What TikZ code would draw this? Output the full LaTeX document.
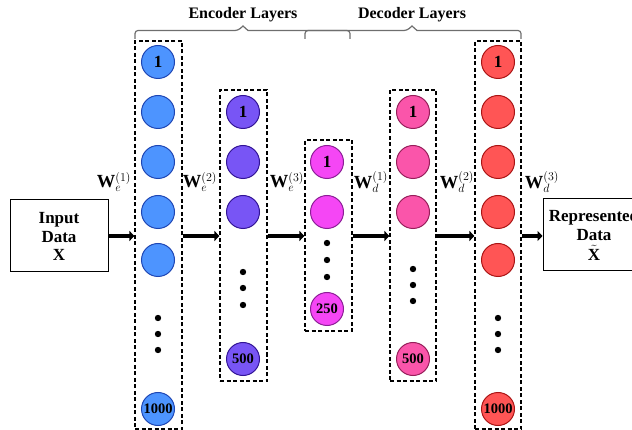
\documentclass[tikz,border=0pt]{standalone}
\usepackage{fontspec}
\setmainfont{Liberation Serif}
\usetikzlibrary{arrows.meta}
\definecolor{bluef}{RGB}{77,148,255}\definecolor{blued}{RGB}{30,70,180}
\definecolor{purf}{RGB}{120,85,245}\definecolor{purd}{RGB}{50,20,150}
\definecolor{magf}{RGB}{245,70,245}\definecolor{magd}{RGB}{140,30,150}
\definecolor{pinkf}{RGB}{250,85,170}\definecolor{pinkd}{RGB}{150,30,90}
\definecolor{redf}{RGB}{255,85,85}\definecolor{redd}{RGB}{170,20,20}
\definecolor{bracec}{RGB}{110,110,110}
\tikzset{
  neuron/.style={circle,minimum size=33pt,inner sep=0pt,line width=1pt,
    font=\fontsize{17}{17}\selectfont\bfseries},
  small/.style={font=\fontsize{14.5}{14.5}\selectfont\bfseries},
  layerbox/.style={draw,dash pattern=on 4pt off 2.5pt,line width=1.2pt,inner sep=0pt},
  databox/.style={draw,line width=1pt,inner sep=0pt,align=center,
    font=\fontsize{17}{19}\selectfont\bfseries},
  flow/.style={line width=3.5pt,-{Triangle[length=5pt,width=10pt]}},
  wlab/.style={font=\fontsize{18.5}{18}\selectfont},
  hdr/.style={font=\fontsize{16}{16}\selectfont\bfseries},
  brace/.style={draw=bracec,line width=1.2pt,rounded corners=3pt}
}
\begin{document}
\begin{tikzpicture}[x=1pt,y=-1pt]
\useasboundingbox (0,0) rectangle (632,430);
\clip (0,0) rectangle (632,430);
% layer boxes
\node[layerbox,minimum width=47pt,minimum height=388pt] (L1) at (158.5,235) {};
\node[layerbox,minimum width=47pt,minimum height=291pt] (L2) at (243.5,235.5) {};
\node[layerbox,minimum width=47pt,minimum height=191pt] (L3) at (328.5,235.5) {};
\node[layerbox,minimum width=46pt,minimum height=291pt] (L4) at (413,235.5) {};
\node[layerbox,minimum width=46pt,minimum height=388pt] (L5) at (498,235) {};
% data boxes
\node[databox,minimum width=98pt,minimum height=72pt] (in) at (59,236) {Input\\Data\\[-1pt]$\mathbf{X}$};
\node[databox,minimum width=102pt,minimum height=72pt] (out) at (594,235) {Represented\\Data\\[1pt]$\tilde{\mathbf{X}}$};
% column 1
\foreach \y/\t [count=\i] in {62/1,112/,162/,212/,260/}
  \node[neuron,fill=bluef,draw=blued] (a\i) at (158,\y) {\t};
\node[neuron,small,fill=bluef,draw=blued] (a6) at (158,409) {1000};
% column 2
\foreach \y/\t [count=\i] in {112/1,162/,212/}
  \node[neuron,fill=purf,draw=purd] (b\i) at (243,\y) {\t};
\node[neuron,small,fill=purf,draw=purd] (b4) at (243,359) {500};
% column 3
\foreach \y/\t [count=\i] in {162/1,212/}
  \node[neuron,fill=magf,draw=magd] (c\i) at (327,\y) {\t};
\node[neuron,small,fill=magf,draw=magd] (c3) at (327,309) {250};
% column 4
\foreach \y/\t [count=\i] in {112/1,162/,212/}
  \node[neuron,fill=pinkf,draw=pinkd] (d\i) at (413,\y) {\t};
\node[neuron,small,fill=pinkf,draw=pinkd] (d4) at (413,359) {500};
% column 5
\foreach \y/\t [count=\i] in {62/1,112/,162/,212/,260/}
  \node[neuron,fill=redf,draw=redd] (e\i) at (498,\y) {\t};
\node[neuron,small,fill=redf,draw=redd] (e6) at (498,409) {1000};
% dots
\foreach \y in {318,334,350} {\fill (158,\y) circle (3.2pt); \fill (498,\y) circle (3.2pt);}
\foreach \y in {272,288,305} \fill (243,\y) circle (3.2pt);
\foreach \y in {269,285,301} \fill (413,\y) circle (3.2pt);
\foreach \y in {243,260,277} \fill (327,\y) circle (3.2pt);
% arrows
\draw[flow] (in.east) -- (in.east -| L1.west);
\draw[flow] (L1.east |- in.east) -- (in.east -| L2.west);
\draw[flow] (L2.east |- in.east) -- (in.east -| L3.west);
\draw[flow] (L3.east |- in.east) -- (in.east -| L4.west);
\draw[flow] (L4.east |- in.east) -- (in.east -| L5.west);
\draw[flow] (L5.east |- in.east) -- (in.east -| out.west);
% weight labels
\node[wlab] (w1) at (114,182) {$\mathbf{W}_e^{(1)}$};
\node[wlab] (w2) at (200,182) {$\mathbf{W}_e^{(2)}$};
\node[wlab] (w3) at (287,182) {$\mathbf{W}_e^{(3)}$};
\node[wlab] (w4) at (371,182) {$\mathbf{W}_d^{(1)}$};
\node[wlab] (w5) at (457,182) {$\mathbf{W}_d^{(2)}$};
\node[wlab] (w6) at (542,182) {$\mathbf{W}_d^{(3)}$};
% braces
\draw[brace] (135,39) -- (135,30.5) -- (238,30.5) [sharp corners] -- (243,26) -- (248,30.5) [rounded corners=3pt] -- (350,30.5) -- (350,39);
\draw[brace] (305,39) -- (305,30.5) -- (407,30.5) [sharp corners] -- (412,26) -- (417,30.5) [rounded corners=3pt] -- (521,30.5) -- (521,39);
\node[hdr] (enc) at (243,15) {Encoder Layers};
\node[hdr] (dec) at (412,15) {Decoder Layers};
\end{tikzpicture}
\end{document}
